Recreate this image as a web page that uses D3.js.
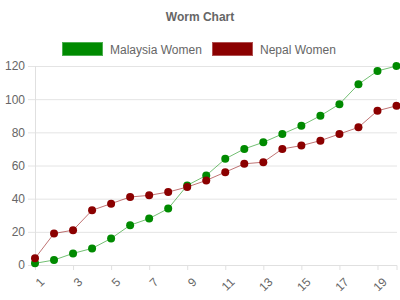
<!DOCTYPE html>
<html>
<head>
<meta charset="utf-8">
<script src="https://cdn.jsdelivr.net/npm/d3@7"></script>
<style>
  body { margin: 0; background: #fff; }
  text { font-family: "Liberation Sans", Arial, sans-serif; }
</style>
</head>
<body>
<div id="chart"></div>
<script>
// Data
const rounds = d3.range(1, 21);
const malaysia = [1, 3, 7, 10, 16, 24, 28, 34, 48, 54, 64, 70, 74, 79, 84, 90, 97, 109, 117, 120];
const nepal = [4, 19, 21, 33, 37, 41, 42, 44, 47, 51, 56, 61, 62, 70, 72, 75, 79, 83, 93, 96];
const seriesNames = ["Malaysia Women", "Nepal Women"];
const seriesColors = ["#008a00", "#8b0000"];
const yTicks = [0, 20, 40, 60, 80, 100, 120];
const xTicks = [1, 3, 5, 7, 9, 11, 13, 15, 17, 19];

const width = 400, height = 300;
const margin = {top: 66, right: 3, bottom: 35, left: 35};

const svg = d3.select("#chart").append("svg")
    .attr("width", width)
    .attr("height", height);

const x = d3.scaleLinear().domain([1, 20]).range([margin.left, width - margin.right - 0.5]);
const y = d3.scaleLinear().domain([0, 120]).range([height - margin.bottom, margin.top]);

// Title
svg.append("text")
    .attr("x", 200).attr("y", 21)
    .attr("text-anchor", "middle")
    .attr("font-size", 12).attr("font-weight", "bold")
    .attr("fill", "#666")
    .text("Worm Chart");

// Legend
const legend = svg.append("g");
const legendX = [62, 212];
seriesNames.forEach((name, i) => {
    legend.append("rect")
        .attr("x", legendX[i] + 0.5).attr("y", 42.5)
        .attr("width", 40).attr("height", 13)
        .attr("fill", seriesColors[i])
        .attr("stroke", i === 0 ? "#4caf50" : "#b05050")
        .attr("stroke-width", 1);
    legend.append("text")
        .attr("x", legendX[i] + 48).attr("y", 54)
        .attr("font-size", 12).attr("fill", "#666")
        .text(name);
});

// Y grid + axis
const yAxis = svg.append("g")
    .attr("transform", `translate(${margin.left},0)`)
    .call(d3.axisLeft(y).tickValues(yTicks)
        .tickSize(-(width - margin.left - margin.right))
        .tickPadding(10));
yAxis.select(".domain").remove();
yAxis.selectAll(".tick line")
    .attr("stroke", "#e4e4e4")
    .attr("x1", -7);
yAxis.selectAll(".tick text")
    .attr("font-size", 12).attr("fill", "#666")
    .attr("font-family", "Liberation Sans, Arial, sans-serif");

// left axis line
svg.append("line")
    .attr("x1", margin.left + 0.5).attr("x2", margin.left + 0.5)
    .attr("y1", margin.top).attr("y2", height - margin.bottom)
    .attr("stroke", "#e0e0e0");

// X axis
const xAxis = svg.append("g")
    .attr("transform", `translate(0,${height - margin.bottom})`)
    .call(d3.axisBottom(x).tickValues(xTicks).tickSize(5).tickFormat(d3.format("d")));
xAxis.select(".domain").attr("stroke", "#e0e0e0");
xAxis.selectAll(".tick line").attr("stroke", "#e0e0e0");
xAxis.selectAll(".tick text")
    .attr("font-size", 12).attr("fill", "#666")
    .attr("font-family", "Liberation Sans, Arial, sans-serif")
    .attr("text-anchor", "end")
    .attr("dy", null)
    .attr("transform", "translate(4,12) rotate(-45)");

// Series
const line = d3.line()
    .x((d, i) => x(rounds[i]))
    .y(d => y(d));

[malaysia, nepal].forEach((vals, s) => {
    svg.append("path")
        .datum(vals)
        .attr("fill", "none")
        .attr("stroke", seriesColors[s])
        .attr("stroke-opacity", 0.55)
        .attr("stroke-width", 1)
        .attr("d", line);
    svg.append("g").selectAll("circle")
        .data(vals)
        .join("circle")
        .attr("cx", (d, i) => x(rounds[i]))
        .attr("cy", d => y(d))
        .attr("r", 4)
        .attr("fill", seriesColors[s]);
});
</script>
</body>
</html>
